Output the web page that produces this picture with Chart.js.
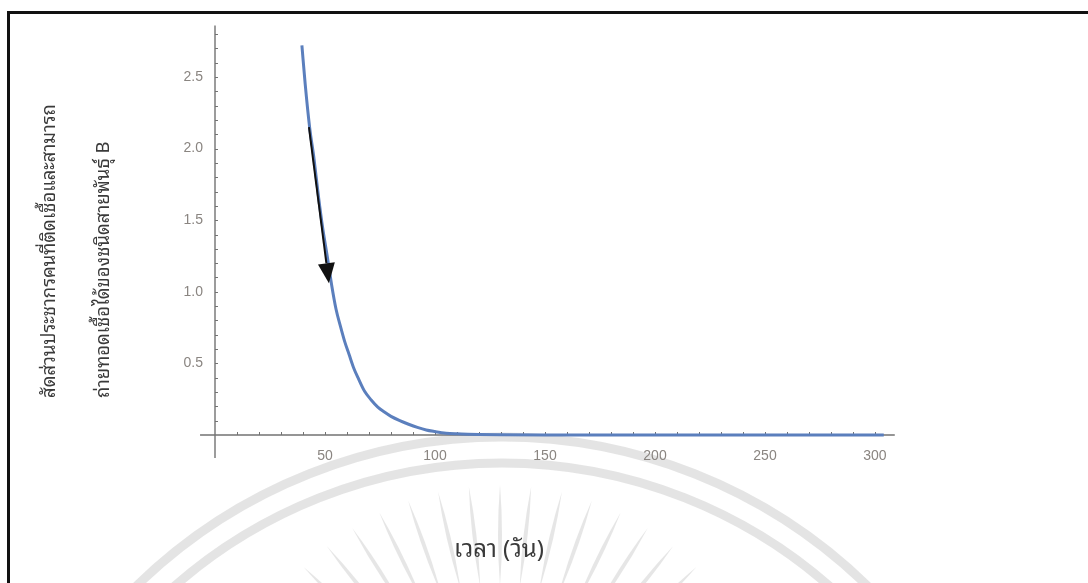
<!DOCTYPE html>
<html lang="th">
<head>
<meta charset="utf-8">
<title>สัดส่วนประชากรคนที่ติดเชื้อ สายพันธุ์ B</title>
<script src="https://cdn.jsdelivr.net/npm/chart.js@4.4.1/dist/chart.umd.min.js"></script>
<style>
  html, body { margin: 0; padding: 0; background: #fff; }
  #wrap { position: relative; width: 1088px; height: 583px; overflow: hidden; }
  #frame {
    position: absolute; left: 7px; top: 11px; right: -10px; bottom: -10px;
    border-top: 3px solid #111; border-left: 3px solid #111;
    pointer-events: none;
  }
  canvas { position: absolute; left: 0; top: 0; }
</style>
</head>
<body>
<div id="wrap">
  <canvas id="chart" width="1088" height="583"></canvas>
  <div id="frame"></div>
</div>
<script>
// time (days) and infectious fraction of strain B
const days = [39.5, 41, 43, 45, 47, 49, 51, 53, 55, 57, 59, 61, 63, 65, 68, 71, 74, 77, 80, 84,
              88, 92, 96, 100, 105, 110, 115, 120, 130, 150, 200, 250, 304];
const fraction = [2.72, 2.45, 2.15, 1.93, 1.67, 1.44, 1.25, 1.05, 0.88, 0.76, 0.65, 0.56, 0.47, 0.40,
                  0.305, 0.245, 0.195, 0.16, 0.13, 0.10, 0.075, 0.053, 0.035, 0.024, 0.013, 0.008,
                  0.005, 0.003, 0.001, 0, 0, 0, 0];

// tick labels
const xTickValues = [50, 100, 150, 200, 250, 300];
const yTickValues = [0.5, 1.0, 1.5, 2.0, 2.5];

// arrow annotation, in (day, fraction)
const arrowFrom = [42.7, 2.15];
const arrowTo = [51.8, 1.06];

const yTitleLines = ['สัดส่วนประชากรคนที่ติดเชื้อและสามารถ', 'ถ่ายทอดเชื้อได้ของชนิดสายพันธุ์ B'];
const xTitle = 'เวลา (วัน)';

const thaiFont = "'Noto Sans Thai Looped', 'Tahoma', 'Loma', 'Garuda', 'Noto Sans Thai', sans-serif";
const tickColor = '#8a8581';
const axisColor = '#737373';

// light logo watermark behind the plot
const watermark = {
  id: 'watermark',
  beforeDraw(chart) {
    const ctx = chart.ctx;
    ctx.save();
    ctx.strokeStyle = 'rgba(205,205,205,0.55)';
    ctx.lineWidth = 9;
    [523, 497].forEach(r => {
      ctx.beginPath();
      ctx.arc(502, 960, r, Math.PI, 2 * Math.PI);
      ctx.stroke();
    });
    ctx.fillStyle = 'rgba(205,205,205,0.5)';
    const cx = 500, cy = 760;
    for (let a = -52; a <= 52; a += 6.5) {
      const t = a * Math.PI / 180;
      const r0 = 175, r1 = 275, rm = (r0 + r1) / 2;
      const ux = Math.sin(t), uy = -Math.cos(t);
      const nx = -uy, ny = ux;
      ctx.beginPath();
      ctx.moveTo(cx + ux * r0, cy + uy * r0);
      ctx.quadraticCurveTo(cx + ux * rm + nx * 4, cy + uy * rm + ny * 4, cx + ux * r1, cy + uy * r1);
      ctx.quadraticCurveTo(cx + ux * rm - nx * 4, cy + uy * rm - ny * 4, cx + ux * r0, cy + uy * r0);
      ctx.fill();
    }
    ctx.restore();
  }
};

// axes crossing at the origin with small inward ticks
const originAxes = {
  id: 'originAxes',
  beforeDatasetsDraw(chart) {
    const { ctx, scales: { x, y } } = chart;
    const x0 = x.getPixelForValue(0), y0 = y.getPixelForValue(0);
    ctx.save();
    ctx.strokeStyle = axisColor;
    ctx.lineWidth = 1.4;
    ctx.beginPath();
    ctx.moveTo(x.getPixelForValue(-6.8), y0);
    ctx.lineTo(x.getPixelForValue(309), y0);
    ctx.moveTo(x0, y.getPixelForValue(2.86));
    ctx.lineTo(x0, y.getPixelForValue(-0.16));
    ctx.stroke();
    ctx.lineWidth = 1;
    ctx.beginPath();
    for (let v = 10; v <= 300; v += 10) {
      const px = Math.round(x.getPixelForValue(v)) + 0.5;
      ctx.moveTo(px, y0);
      ctx.lineTo(px, y0 - 3);
    }
    for (let i = 1; i <= 28; i++) {
      const py = Math.round(y.getPixelForValue(i / 10)) + 0.5;
      ctx.moveTo(x0, py);
      ctx.lineTo(x0 + 3, py);
    }
    ctx.stroke();
    ctx.restore();
  },
  afterDatasetsDraw(chart) {
    const { ctx, scales: { x, y } } = chart;
    const ax = x.getPixelForValue(arrowFrom[0]), ay = y.getPixelForValue(arrowFrom[1]);
    const bx = x.getPixelForValue(arrowTo[0]), by = y.getPixelForValue(arrowTo[1]);
    const ang = Math.atan2(by - ay, bx - ax);
    const len = 20, half = 8.5;
    const hx = bx - Math.cos(ang) * len, hy = by - Math.sin(ang) * len;
    ctx.save();
    ctx.strokeStyle = '#111';
    ctx.fillStyle = '#111';
    ctx.lineWidth = 2;
    ctx.beginPath();
    ctx.moveTo(ax, ay);
    ctx.lineTo(hx, hy);
    ctx.stroke();
    ctx.beginPath();
    ctx.moveTo(bx, by);
    ctx.lineTo(hx - Math.sin(ang) * half, hy + Math.cos(ang) * half);
    ctx.lineTo(hx + Math.sin(ang) * half, hy - Math.cos(ang) * half);
    ctx.closePath();
    ctx.fill();
    ctx.restore();
  },
  afterDraw(chart) {
    const ctx = chart.ctx;
    ctx.save();
    ctx.fillStyle = '#3a3a3a';
    ctx.font = '18.5px ' + thaiFont;
    ctx.textAlign = 'left';
    ctx.textBaseline = 'middle';
    [50, 104].forEach((cx, i) => {
      ctx.save();
      ctx.translate(cx, 398);
      ctx.rotate(-Math.PI / 2);
      ctx.fillText(yTitleLines[i], 0, 0);
      ctx.restore();
    });
    ctx.font = '24px ' + thaiFont;
    ctx.textAlign = 'center';
    ctx.fillText(xTitle, 499, 550);
    ctx.restore();
  }
};

new Chart(document.getElementById('chart'), {
  type: 'scatter',
  data: {
    datasets: [{
      data: days.map((d, i) => ({ x: d, y: fraction[i] })),
      showLine: true,
      borderColor: '#5b7fbd',
      borderWidth: 3,
      pointRadius: 0,
      tension: 0.3,
      cubicInterpolationMode: 'monotone'
    }]
  },
  options: {
    responsive: false,
    animation: false,
    events: [],
    layout: { padding: { top: 25, right: 193, bottom: 0, left: 0 } },
    plugins: { legend: { display: false }, tooltip: { enabled: false } },
    scales: {
      x: {
        type: 'linear',
        min: -5,
        max: 309.1,
        afterBuildTicks: s => { s.ticks = xTickValues.map(v => ({ value: v })); },
        afterFit: s => { s.height = 139; },
        grid: { display: false, drawTicks: false },
        border: { display: false },
        ticks: {
          color: tickColor, font: { family: 'Liberation Sans', size: 14 },
          padding: 4, maxRotation: 0, autoSkip: false,
          callback: v => String(v)
        }
      },
      y: {
        type: 'linear',
        min: -0.0628,
        max: 2.863,
        afterBuildTicks: s => { s.ticks = yTickValues.map(v => ({ value: v })); },
        afterFit: s => { s.width = 204; },
        grid: { display: false, drawTicks: false },
        border: { display: false },
        ticks: {
          color: tickColor, font: { family: 'Liberation Sans', size: 14 },
          padding: 1, autoSkip: false,
          callback: v => v.toFixed(1)
        }
      }
    }
  },
  plugins: [watermark, originAxes]
});
</script>
</body>
</html>
